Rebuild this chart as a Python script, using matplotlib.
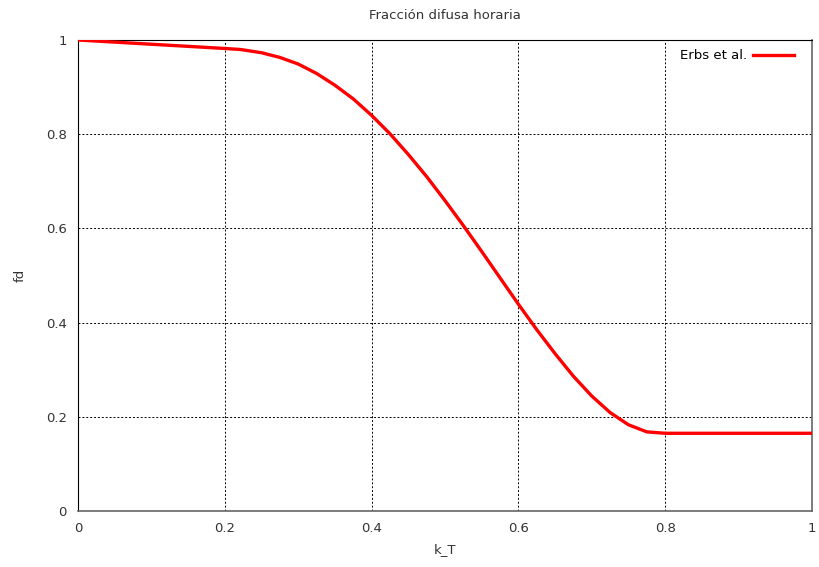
import matplotlib
matplotlib.use("Agg")
import matplotlib.pyplot as plt

# valores (k_T, fd)
KT = [0.0, 0.05, 0.10, 0.15, 0.20, 0.22, 0.225, 0.25, 0.275, 0.30, 0.325, 0.35,
      0.375, 0.40, 0.425, 0.45, 0.475, 0.50, 0.525, 0.55, 0.575, 0.60, 0.625,
      0.65, 0.675, 0.70, 0.725, 0.75, 0.775, 0.80, 0.85, 0.90, 0.95, 1.0]
FD = [1.0, 0.9955, 0.991, 0.9865, 0.982, 0.980, 0.979, 0.973, 0.963, 0.949,
      0.929, 0.904, 0.875, 0.840, 0.801, 0.757, 0.710, 0.659, 0.606, 0.551,
      0.495, 0.439, 0.385, 0.334, 0.286, 0.244, 0.209, 0.183, 0.168, 0.165,
      0.165, 0.165, 0.165, 0.165]
XTICKS = [0, 0.2, 0.4, 0.6, 0.8, 1]
YTICKS = [0, 0.2, 0.4, 0.6, 0.8, 1]

fig = plt.figure(figsize=(8.19, 5.67), dpi=100)
ax = fig.add_axes([78 / 819, 1 - 511 / 567, (812 - 78) / 819, (511 - 40) / 567])

ax.plot(KT, FD, color="#ff0000", lw=2.4, label="Erbs et al.", zorder=3)

ax.set_xlim(0, 1)
ax.set_ylim(0, 1)
ax.set_xticks(XTICKS)
ax.set_yticks(YTICKS)
ax.set_xticklabels(["0", "0.2", "0.4", "0.6", "0.8", "1"])
ax.set_yticklabels(["0", "0.2", "0.4", "0.6", "0.8", "1"])
ax.tick_params(length=0, labelsize=9.5, colors="#333333", pad=8)
ax.grid(True, color="black", ls=(0, (2, 2)), lw=0.7)
for side in ["left", "top"]:
    ax.spines[side].set_color("black")
for side in ["right", "bottom"]:
    ax.spines[side].set_color("#666666")
    ax.spines[side].set_linewidth(1.2)

ax.set_xlabel("k_T", fontsize=9.5, color="#333333", labelpad=6)
ax.set_ylabel("fd", fontsize=9.5, color="#333333", labelpad=14)
ax.set_title("Fracción difusa horaria", fontsize=9.5, color="#333333", pad=15)

leg = ax.legend(loc="upper right", frameon=True, fontsize=9.5, markerfirst=False,
                handlelength=3.1, handletextpad=0.45, borderaxespad=0.3,
                fancybox=False, bbox_to_anchor=(0.988, 1.0))
leg.get_frame().set_edgecolor("white")
leg.get_frame().set_alpha(1)

fig.savefig("out.png", dpi=100)
